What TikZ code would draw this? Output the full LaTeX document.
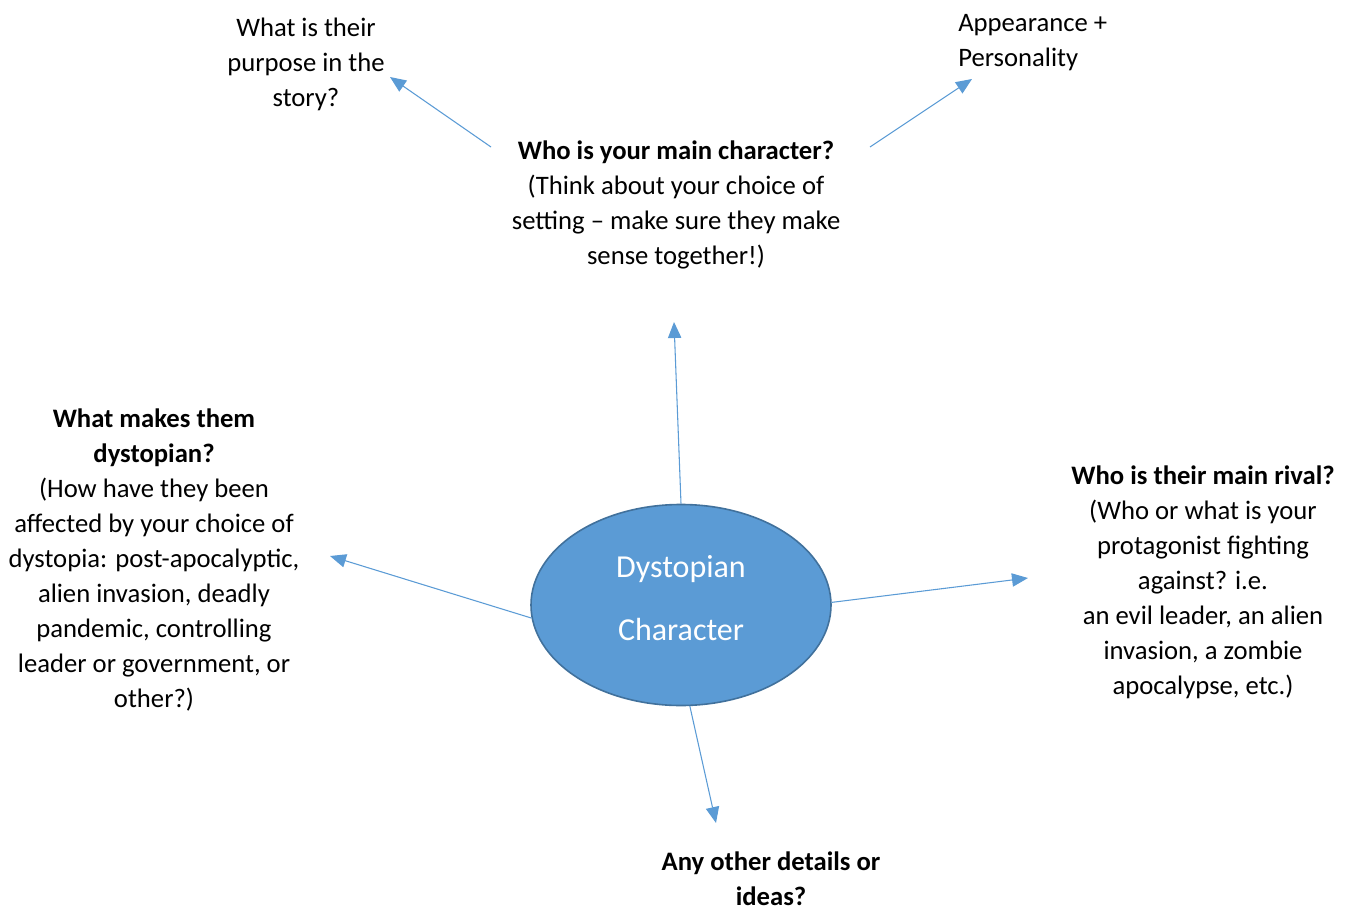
\documentclass[tikz,border=0pt]{standalone}
\usepackage{fontspec}
\setmainfont{Carlito}
\usetikzlibrary{arrows.meta,shapes.geometric}
\definecolor{cblue}{HTML}{5B9BD5}
\definecolor{cborder}{HTML}{41719C}
\tikzset{
  txt/.style={align=center,inner sep=0pt,font=\fontsize{20}{26.25}\selectfont},
  txtl/.style={align=left,inner sep=0pt,anchor=west,font=\fontsize{20}{26.25}\selectfont},
  conn/.style={draw=cblue,line width=0.8pt,-{Triangle[length=12pt,width=10pt]}},
}
\begin{document}
\begin{tikzpicture}[x=0.75pt,y=-0.75pt]
\useasboundingbox (0,0) rectangle (1349,906);
% central ellipse
\node[ellipse,draw=cborder,line width=1.2pt,fill=cblue,minimum width=225pt,minimum height=150.75pt,inner sep=0pt] (ell) at (681,605) {};
\node[text=white,align=center,font=\fontsize{24}{47.25}\selectfont] (lbl) at (681,598) {Dystopian\\Character};
% text nodes
\node[txt] (purpose) at (306,64) {What is their\\purpose in the\\story?};
\node[txtl] (appear) at (958,43) {Appearance +\\Personality};
\node[txt] (main) at (676,205) {\textbf{Who is your main character?}\\(Think about your choice of\\setting -- make sure they make\\sense together!)};
\node[txt] (left) at (154,560) {\textbf{What makes them}\\\textbf{dystopian?}\\(How have they been\\affected by your choice of\\dystopia: post-apocalyptic,\\alien invasion, deadly\\pandemic, controlling\\leader or government, or\\other?)};
\node[txt] (right) at (1203,582) {\textbf{Who is their main rival?}\\(Who or what is your\\protagonist fighting\\against? i.e.\\an evil leader, an alien\\invasion, a zombie\\apocalypse, etc.)};
\node[txt] (bottom) at (771,879) {\textbf{Any other details or}\\\textbf{ideas?}};
% arrow end coordinates
\coordinate (tlS) at (491,147);
\coordinate (tlE) at (390,77);
\coordinate (trS) at (870,147);
\coordinate (trE) at (972,79);
\coordinate (upE) at (674,322);
\coordinate (lfE) at (330,556);
\coordinate (rtE) at (1028,578);
\coordinate (dnE) at (716,823);
% connectors
\draw[conn] (tlS) -- (tlE);
\draw[conn] (trS) -- (trE);
\draw[conn] (ell.90) -- (upE);
\draw[conn] (ell.185) -- (lfE);
\draw[conn] (ell.1) -- (rtE);
\draw[conn] (ell.-85) -- (dnE);
\end{tikzpicture}
\end{document}
